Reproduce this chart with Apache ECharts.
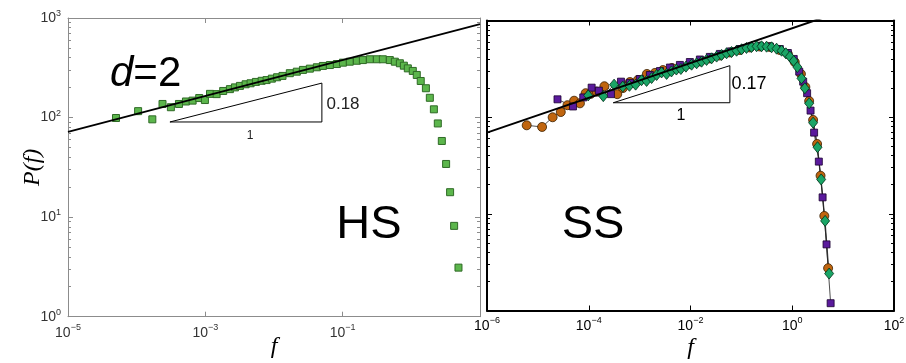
<!DOCTYPE html>
<html><head><meta charset="utf-8">
<script src="https://cdn.jsdelivr.net/npm/echarts@6/dist/echarts.min.js"></script>
<style>html,body{margin:0;padding:0;background:#fff}#c{width:906px;height:363px}</style>
</head><body><div id="c"></div>
<script>
// ---------- HS panel (left) ----------
const hsF = [5.0e-5,1.05e-4,1.69e-4,2.38e-4,3.15e-4,4.13e-4,5.22e-4,6.53e-4,8.15e-4,9.86e-4,
  1.17e-3,1.46e-3,1.82e-3,2.28e-3,2.70e-3,3.19e-3,3.86e-3,4.56e-3,5.45e-3,6.61e-3,7.80e-3,9.31e-3,
  1.11e-2,1.33e-2,1.70e-2,2.15e-2,2.64e-2,3.33e-2,4.21e-2,5.15e-2,6.52e-2,8.24e-2,0.101,0.127,0.161,
  0.197,0.249,0.315,0.385,0.486,0.575,0.681,0.778,0.889,1.05,1.20,1.37,1.63,1.86,2.13,2.43,2.78,
  3.21,3.67,4.20,4.86];
const hsP = [99,116,96,137,127,137,145,148,157,150,
  173,172,185,193,201,208,216,221,228,234,238,246,
  254,262,279,289,301,310,320,330,337,345,356,364,372,
  378,385,385,385,378,364,351,332,312,294,268,233,197,158,121,87.3,58.2,
  34.2,17.8,8.17,3.11];
const hsFitF = [1e-5, 10];
const hsFitP = [71.7, 867];
const hsTriF = [3.05e-4, 4.98e-2, 4.98e-2, 3.05e-4];
const hsTriP = [90.3, 90.3, 222, 90.3];

// ---------- SS panel (right) ----------
const ssOrangeF = [6.03e-6,1.21e-5,1.95e-5,2.82e-5,3.82e-5,5.16e-5,6.71e-5,8.69e-5,1.09e-4,1.43e-4,
  2.03e-4,3.63e-4,4.70e-4,6.44e-4,9.27e-4,1.39e-3,2.00e-3,2.87e-3,4.32e-3,6.19e-3,9.72e-3,
  1.53e-2,2.40e-2,3.78e-2,5.94e-2,9.35e-2,0.147,0.231,0.363,0.570,0.820,1.12,1.48,1.81,2.15,
  2.57,3.08,3.60,4.27,5.07];
const ssOrangeP = [82.4,79.2,99.8,113,133,148,139,177,174,184,
  209,173,200,231,243,280,287,307,323,334,355,
  377,405,434,467,495,526,538,532,495,451,372,280,205,147,
  93.6,52.8,24.8,9.51,2.74];
const ssPurpleF = [2.43e-5,4.90e-5,7.80e-5,1.14e-4,1.58e-4,2.73e-4,4.30e-4,6.44e-4,1.01e-3,1.59e-3,
  2.51e-3,3.94e-3,6.19e-3,9.72e-3,1.53e-2,2.40e-2,3.78e-2,5.94e-2,9.35e-2,0.147,0.231,0.363,
  0.570,0.820,1.07,1.37,1.64,1.96,2.29,2.69,3.33,3.95,4.72,5.68];
const ssPurpleP = [153,129,160,202,188,173,233,226,248,273,
  300,326,347,372,395,420,451,478,507,532,545,538,
  507,461,400,296,233,177,117,69.2,34.7,14.8,4.83,1.19];
const ssGreenF = [9.77e-5,1.93e-4,3.15e-4,4.66e-4,6.31e-4,8.34e-4,1.09e-3,1.37e-3,1.72e-3,2.16e-3,
  2.70e-3,3.39e-3,4.22e-3,5.28e-3,6.47e-3,8.13e-3,1.05e-2,1.32e-2,1.65e-2,2.07e-2,
  2.60e-2,3.26e-2,4.08e-2,5.12e-2,6.41e-2,8.05e-2,0.101,0.126,0.158,0.199,
  0.249,0.313,0.392,0.492,0.617,0.748,0.897,1.07,1.26,1.52,
  1.77,2.15,2.57,3.14,3.70,4.43,5.31];
const ssGreenP = [168,165,217,207,211,217,241,237,254,273,
  290,280,297,311,315,333,349,361,375,391,
  406,423,440,458,472,487,504,520,532,541,
  541,536,528,511,487,458,423,381,330,252,
  199,139,87.7,48.9,22.7,8.45,2.41];
const ssFitF = [1e-6, 100];
const ssFitP = [69.2, 1905];
const ssTriF = [3.03e-4, 5.94e-2, 5.94e-2, 3.03e-4];
const ssTriP = [141, 141, 341, 141];

// ---------- ticks ----------
const hsXTicks = [1e-5, 1e-3, 1e-1, 1e1];
const hsXLabelVals = [1e-5, 1e-3, 1e-1];
const hsXLabelExp = ['-5', '-3', '-1'];
const ssXTicks = [1e-6, 1e-4, 1e-2, 1e0, 1e2];
const ssXLabelExp = ['-6', '-4', '-2', '0', '2'];
const yTicks = [1, 10, 100, 1000];
const yLabelExp = ['0', '1', '2', '3'];
const yMinorTicks = [2,3,4,5,6,7,8,9,20,30,40,50,60,70,80,90,200,300,400,500,600,700,800,900];

const zip = (a, b) => a.map((v, i) => [v, b[i]]);
function expFormatter(vals, exps) {
  return function (v) {
    for (let i = 0; i < vals.length; i++) {
      if (Math.abs(vals[i] - v) / vals[i] < 1e-6) return '{b|10}{s|' + exps[i].replace('-', '\u2212') + '}';
    }
    return '';
  };
}

const sans = 'Liberation Sans, Arial, Helvetica, sans-serif';
const serif = 'Liberation Serif, Times New Roman, serif';

function richX(color, fs) {
  return { b: { fontSize: fs, fontFamily: sans, color: color, lineHeight: 20 },
           s: { fontSize: 9, fontFamily: sans, color: color, lineHeight: 9, verticalAlign: 'top' } };
}
function richY(color, fs) {
  return { b: { fontSize: fs, fontFamily: sans, color: color, lineHeight: 18 },
           s: { fontSize: 9, fontFamily: sans, color: color, lineHeight: 9, verticalAlign: 'top' } };
}

const hsFrame = '#8c8c8c';
const ssFrame = '#000';

function xAxes(grid, min, max, ticks, labelVals, labelExp, color, lw, labColor, fs) {
  return [
    { type: 'log', gridIndex: grid, min: min, max: max, position: 'bottom',
      axisLine: { show: true, lineStyle: { color: color, width: lw } },
      axisTick: { show: true, inside: true, length: 5, customValues: ticks, lineStyle: { color: color, width: 1 } },
      axisLabel: { show: true, margin: 6, customValues: labelVals, formatter: expFormatter(labelVals, labelExp), rich: richX(labColor, fs) },
      splitLine: { show: false }, minorTick: { show: false } },
    { type: 'log', gridIndex: grid, min: min, max: max, position: 'top',
      axisLine: { show: true, lineStyle: { color: color, width: lw } },
      axisTick: { show: true, inside: true, length: 5, customValues: ticks, lineStyle: { color: color, width: 1 } },
      axisLabel: { show: false }, splitLine: { show: false } }
  ];
}
function yAxes(grid, color, lw, withLabels, labColor) {
  const base = { type: 'log', gridIndex: grid, min: 1, max: 1000, splitLine: { show: false } };
  return [
    Object.assign({}, base, { position: 'left',
      axisLine: { show: true, lineStyle: { color: color, width: lw } },
      axisTick: { show: true, inside: true, length: 5, customValues: yTicks, lineStyle: { color: color, width: 1 } },
      axisLabel: withLabels ? { show: true, margin: 7, customValues: yTicks, formatter: expFormatter(yTicks, yLabelExp), rich: richY(labColor, 14) } : { show: false } }),
    Object.assign({}, base, { position: 'left',
      axisLine: { show: false },
      axisTick: { show: true, inside: true, length: 3, customValues: yMinorTicks, lineStyle: { color: color, width: 1 } },
      axisLabel: { show: false } }),
    Object.assign({}, base, { position: 'right',
      axisLine: { show: true, lineStyle: { color: color, width: lw } },
      axisTick: { show: true, inside: true, length: 5, customValues: yTicks, lineStyle: { color: color, width: 1 } },
      axisLabel: { show: false } }),
    Object.assign({}, base, { position: 'right',
      axisLine: { show: false },
      axisTick: { show: true, inside: true, length: 3, customValues: yMinorTicks, lineStyle: { color: color, width: 1 } },
      axisLabel: { show: false } })
  ];
}

const xA = xAxes(0, 1e-5, 10, hsXTicks, hsXLabelVals, hsXLabelExp, hsFrame, 1, '#333', 14)
  .concat(xAxes(1, 1e-6, 100, ssXTicks, ssXTicks, ssXLabelExp, ssFrame, 2, '#000', 14));
const nameStyle = { fontFamily: serif, fontStyle: 'italic', fontSize: 24, color: '#000', verticalAlign: 'middle', align: 'center' };
xA[0].name = 'f'; xA[0].nameLocation = 'middle'; xA[0].nameGap = 30; xA[0].nameTextStyle = nameStyle; xA[0].nameMoveOverlap = false;
xA[2].name = 'f'; xA[2].nameLocation = 'middle'; xA[2].nameGap = 37; xA[2].nameTextStyle = nameStyle; xA[2].nameMoveOverlap = false;

const yA = yAxes(0, hsFrame, 1, true, '#333').concat(yAxes(1, ssFrame, 2, false, '#000'));
yA[0].name = 'P(f)'; yA[0].nameLocation = 'middle'; yA[0].nameGap = 35; yA[0].nameRotate = 90;
yA[0].nameTextStyle = nameStyle; yA[0].nameMoveOverlap = false;

const option = {
  backgroundColor: '#fff',
  animation: false,
  grid: [
    { left: 68, top: 18, width: 412, height: 298.7, outerBoundsMode: 'none', containLabel: false },
    { left: 487, top: 20.5, width: 407, height: 290, outerBoundsMode: 'none', containLabel: false }
  ],
  xAxis: xA,
  yAxis: yA,
  series: [
    { type: 'scatter', xAxisIndex: 0, yAxisIndex: 0, data: zip(hsF, hsP), symbol: 'rect', symbolSize: 7,
      itemStyle: { color: '#5cb64c', borderColor: '#2f6a26', borderWidth: 1, opacity: 1 } },
    { type: 'line', xAxisIndex: 0, yAxisIndex: 0, data: zip(hsFitF, hsFitP), symbol: 'none',
      lineStyle: { color: '#000', width: 1.8 }, z: 5 },
    { type: 'line', xAxisIndex: 0, yAxisIndex: 0, data: zip(hsTriF, hsTriP), symbol: 'none',
      lineStyle: { color: '#000', width: 1 } },

    { type: 'line', xAxisIndex: 2, yAxisIndex: 4, data: zip(ssOrangeF, ssOrangeP), symbol: 'circle', symbolSize: 9,
      lineStyle: { color: '#222', width: 0.8 }, itemStyle: { color: '#c0650f', borderColor: '#3a2000', borderWidth: 0.8 } },
    { type: 'line', xAxisIndex: 2, yAxisIndex: 4, data: zip(ssPurpleF, ssPurpleP), symbol: 'rect', symbolSize: 7,
      lineStyle: { color: '#222', width: 0.8 }, itemStyle: { color: '#5a1a9c', borderColor: '#1a0030', borderWidth: 0.8 } },
    { type: 'line', xAxisIndex: 2, yAxisIndex: 4, data: zip(ssGreenF, ssGreenP), symbol: 'diamond', symbolSize: [9, 11],
      lineStyle: { color: '#222', width: 0.8 }, itemStyle: { color: '#1aa566', borderColor: '#003018', borderWidth: 0.8 } },
    { type: 'line', xAxisIndex: 2, yAxisIndex: 4, data: zip(ssFitF, ssFitP), symbol: 'none',
      lineStyle: { color: '#000', width: 2 }, z: 5 },
    { type: 'line', xAxisIndex: 2, yAxisIndex: 4, data: zip(ssTriF, ssTriP), symbol: 'none',
      lineStyle: { color: '#000', width: 1 } }
  ],
  graphic: [
    { type: 'text', left: 110, top: 53, style: { text: '{i|d}{n|=2}', rich: {
        i: { fontSize: 42, fontFamily: sans, fontStyle: 'italic', fill: '#000' },
        n: { fontSize: 42, fontFamily: sans, fill: '#000' } } } },
    { type: 'text', x: 369, y: 225, style: { text: 'HS', fontSize: 47, fontFamily: sans, fill: '#000', align: 'center', verticalAlign: 'middle' } },
    { type: 'text', x: 593, y: 225, style: { text: 'SS', fontSize: 47, fontFamily: sans, fill: '#000', align: 'center', verticalAlign: 'middle' } },
    { type: 'text', x: 343, y: 104, style: { text: '0.18', fontSize: 17, fontFamily: sans, fill: '#222', align: 'center', verticalAlign: 'middle' } },
    { type: 'text', x: 250, y: 136, style: { text: '1', fontSize: 12, fontFamily: sans, fill: '#222', align: 'center', verticalAlign: 'middle' } },
    { type: 'text', x: 749, y: 84, style: { text: '0.17', fontSize: 18, fontFamily: sans, fill: '#000', align: 'center', verticalAlign: 'middle' } },
    { type: 'text', x: 681, y: 116, style: { text: '1', fontSize: 16, fontFamily: sans, fill: '#000', align: 'center', verticalAlign: 'middle' } }
  ]
};
const chart = echarts.init(document.getElementById('c'), null, { renderer: 'canvas' });
chart.setOption(option);
</script></body></html>
